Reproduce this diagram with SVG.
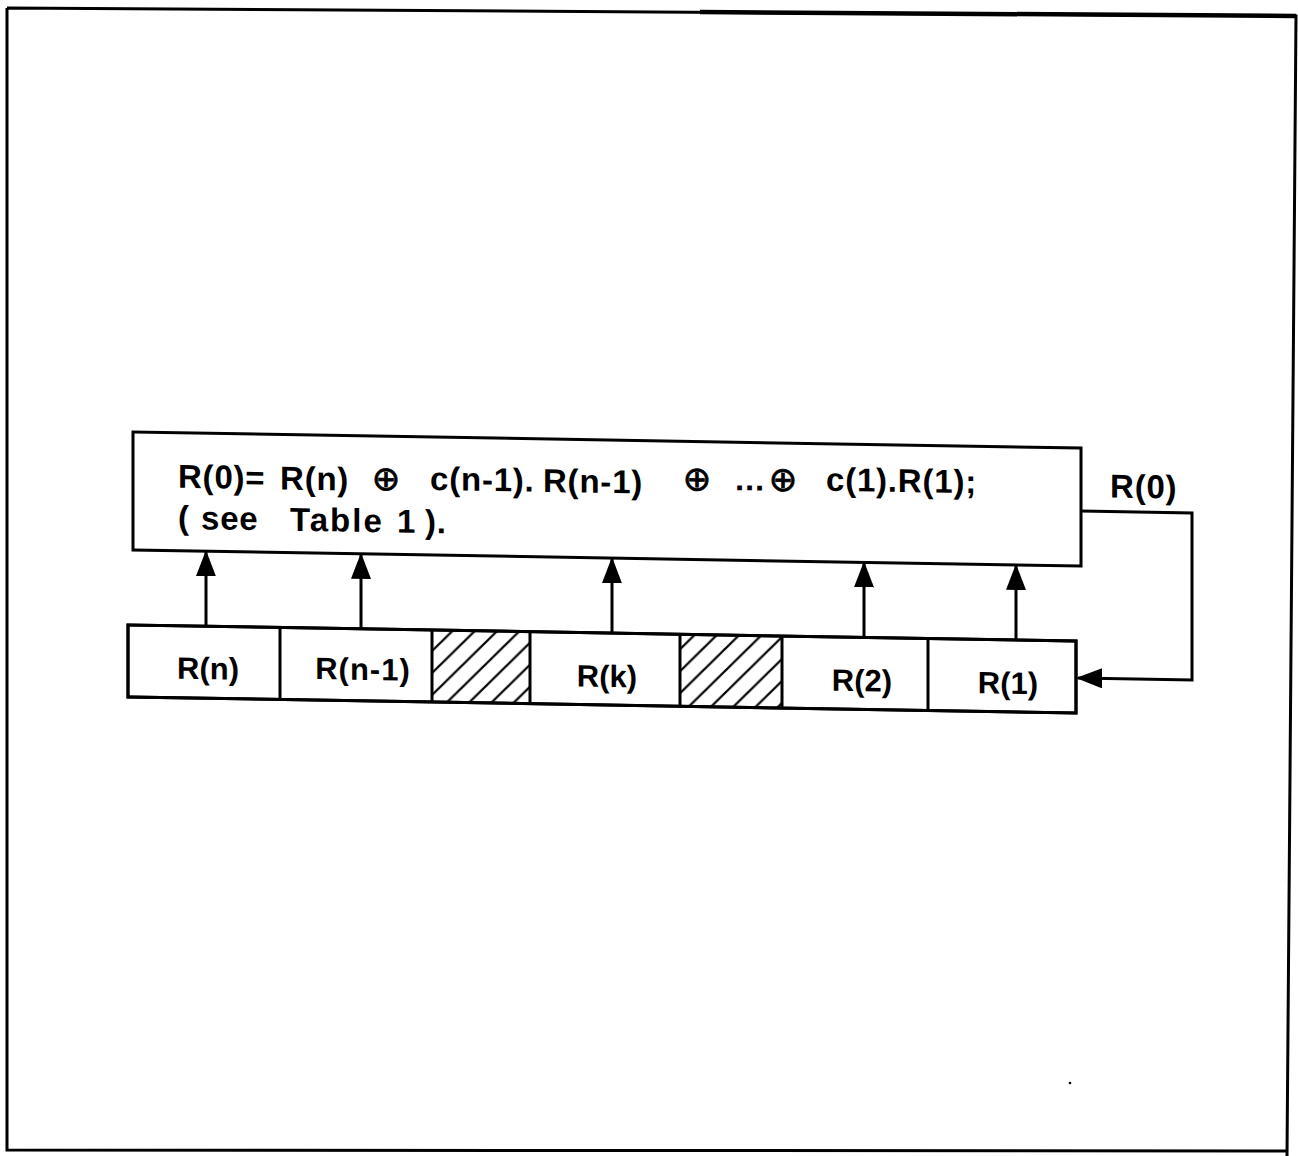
<svg xmlns="http://www.w3.org/2000/svg" width="1298" height="1156" viewBox="0 0 1298 1156">
<style>
.ln{fill:none;stroke:#000;stroke-width:3;stroke-linejoin:miter}
.bx{fill:#fff;stroke:#000;stroke-width:3}
.t{font-family:"Liberation Sans",Arial,sans-serif;font-size:33px;font-weight:bold;fill:#000;letter-spacing:0.8px}
.c{font-family:"Liberation Sans",Arial,sans-serif;font-size:31px;font-weight:bold;fill:#000;text-anchor:middle}
.op{font-family:"DejaVu Sans",sans-serif;font-size:34px;fill:#000;stroke:#000;stroke-width:0.8;text-anchor:middle}
.hatch{stroke:#000;stroke-width:2.2}
</style>
<defs>
<marker id="ah" viewBox="0 0 26 20" refX="24" refY="10" markerWidth="26" markerHeight="20" markerUnits="userSpaceOnUse" orient="auto">
<path d="M0,0 L26,10 L0,20 Z" fill="#000"/>
</marker>
<pattern id="hp" patternUnits="userSpaceOnUse" width="22" height="22">
<line x1="-2" y1="24" x2="24" y2="-2" class="hatch"/>
<line x1="-13" y1="13" x2="13" y2="-13" class="hatch"/>
<line x1="9" y1="35" x2="35" y2="9" class="hatch"/>
</pattern>
</defs>
<rect width="1298" height="1156" fill="#fff"/>
<g id="frame">
<path d="M7,8 L1296,16 L1287,1156 M7,8 L7,1150 L1287,1151" class="ln"/>
<path d="M700,12 L1296,16" fill="none" stroke="#000" stroke-width="4.5"/>
<circle cx="1070" cy="1083" r="1.3" fill="#000"/>
</g>
<g transform="matrix(1,0.0169,0,1,0,-2.25)">
<g id="connectors">
<line x1="206" y1="625" x2="206" y2="551" class="ln" marker-end="url(#ah)"/>
<line x1="361" y1="625" x2="361" y2="551" class="ln" marker-end="url(#ah)"/>
<line x1="612" y1="625" x2="612" y2="551" class="ln" marker-end="url(#ah)"/>
<line x1="864" y1="625" x2="864" y2="551" class="ln" marker-end="url(#ah)"/>
<line x1="1016" y1="625" x2="1016" y2="551" class="ln" marker-end="url(#ah)"/>
<path d="M1081,495 L1192,495 L1192,662 L1078,662" class="ln" marker-end="url(#ah)"/>
</g>
<g id="equation-box">
<rect x="133" y="432" width="948" height="118" class="bx"/>
<text class="t" y="487"><tspan x="178">R(0)=</tspan><tspan x="280">R(n)</tspan></text>
<text class="op" x="386" y="486">⊕</text>
<text class="t" y="485"><tspan x="430">c(n-1).</tspan><tspan x="543">R(n-1)</tspan></text>
<text class="op" x="697" y="481">⊕</text>
<text class="t" x="735" y="480" letter-spacing="0">...</text>
<text class="op" x="783" y="480">⊕</text>
<text class="t" x="826" y="479">c(1).R(1);</text>
<text class="t" y="528"><tspan x="178">(</tspan><tspan x="201">see</tspan><tspan x="290" letter-spacing="2">Table</tspan><tspan x="397">1</tspan><tspan x="425">).</tspan></text>
</g>
<g id="label-r0">
<text class="t" x="1110" y="481" letter-spacing="2">R(0)</text>
</g>
<g id="register">
<rect x="128" y="625" width="948" height="72" class="bx"/>
<rect x="432" y="625" width="98" height="72" fill="url(#hp)"/>
<rect x="680" y="625" width="102" height="72" fill="url(#hp)"/>
<path d="M280,625 V697 M432,625 V697 M530,625 V697 M680,625 V697 M782,625 V697 M928,625 V697" class="ln"/>
<rect x="128" y="625" width="948" height="72" fill="none" stroke="#000" stroke-width="3"/>
</g>
<g id="cell-rn"><text class="c" x="208" y="678">R(n)</text></g>
<g id="cell-rn1"><text class="c" x="363" y="676" letter-spacing="1">R(n-1)</text></g>
<g id="cell-rk"><text class="c" x="607" y="679">R(k)</text></g>
<g id="cell-r2"><text class="c" x="862" y="679">R(2)</text></g>
<g id="cell-r1"><text class="c" x="1008" y="679">R(1)</text></g>
</g>
</svg>
